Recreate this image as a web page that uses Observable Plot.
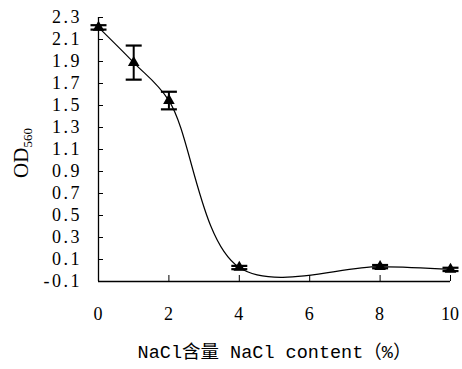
<!DOCTYPE html>
<html><head><meta charset="utf-8">
<script src="https://cdn.jsdelivr.net/npm/d3@7"></script>
<script src="https://cdn.jsdelivr.net/npm/@observablehq/plot@0.6"></script>
<style>
body{margin:0;background:#fff}
</style>
</head><body><div id="chart"></div>
<script>
const nacl = [0, 1, 2, 4, 8, 10];
const od = [2.21, 1.89, 1.545, 0.027, 0.035, 0.01];
const odErr = [0.02, 0.155, 0.08, 0.015, 0.015, 0.015];
const yTicks = [-0.1, 0.1, 0.3, 0.5, 0.7, 0.9, 1.1, 1.3, 1.5, 1.7, 1.9, 2.1, 2.3];
const xTicks = [0, 2, 4, 6, 8, 10];
const xLabel = "NaCl含量 NaCl content（%）";

const data = nacl.map((x, i) => ({x, y: od[i], lo: od[i] - odErr[i], hi: od[i] + odErr[i]}));

const cap = {draw(ctx, size) { const h = Math.sqrt(size / Math.PI); ctx.moveTo(-h, 0); ctx.lineTo(h, 0); }};
const serif = "'Liberation Serif','DejaVu Serif',serif";
const fmt = d => d3.format(".1f")(d).replace("−", "-");

const plot = Plot.plot({
  width: 462, height: 369,
  marginLeft: 98, marginRight: 12, marginTop: 17, marginBottom: 88,
  x: {domain: [0, 10]},
  y: {domain: [-0.1, 2.3]},
  marks: [
    Plot.axisY({ticks: yTicks, tickSize: -5, tickFormat: () => "", label: null}),
    Plot.axisX({ticks: xTicks, tickSize: -6, tickFormat: () => "", label: null}),
    Plot.ruleX([0], {stroke: "black", strokeWidth: 1.3}),
    Plot.ruleY([-0.1], {stroke: "black", strokeWidth: 1.3}),
    Plot.line(data, {x: "x", y: "y", curve: "catmull-rom", stroke: "black", strokeWidth: 1.2}),
    Plot.ruleX(data, {x: "x", y1: "lo", y2: "hi", stroke: "black", strokeWidth: 2}),
    Plot.dot(data, {x: "x", y: "hi", symbol: cap, r: 8, stroke: "black", strokeWidth: 2.2}),
    Plot.dot(data, {x: "x", y: "lo", symbol: cap, r: 8, stroke: "black", strokeWidth: 2.2}),
    Plot.dot(data, {x: "x", y: "y", symbol: "triangle", r: 4.3, fill: "black"}),
    Plot.text([xLabel], {frameAnchor: "bottom", dy: 76, text: d => d, fontSize: 18.5, fontFamily: "'Liberation Mono','Noto Sans CJK SC',monospace", fill: "black"})
  ]
});
document.getElementById("chart").append(plot);

const svg = d3.select(plot);
const ys = plot.scale("y"), xs = plot.scale("x");
const x0 = xs.apply(0), yBase = ys.apply(-0.1);

// y tick labels, drawn through Plot's y scale, spaced out like the original
const gy = svg.append("g").attr("aria-label", "y tick labels")
  .attr("font-family", serif).attr("font-size", 18).attr("fill", "black")
  .attr("text-anchor", "end");
gy.selectAll("text").data(yTicks).join("text")
  .attr("x", x0 - 16)
  .attr("y", d => ys.apply(d))
  .attr("dy", "0.34em")
  .attr("letter-spacing", "2.5")
  .style("letter-spacing", "2.5px")
  .text(fmt);

// x tick labels through Plot's x scale
const gx = svg.append("g").attr("aria-label", "x tick labels")
  .attr("font-family", serif).attr("font-size", 18).attr("fill", "black")
  .attr("text-anchor", "middle");
gx.selectAll("text").data(xTicks).join("text")
  .attr("x", d => xs.apply(d))
  .attr("y", yBase + 33)
  .attr("dy", "0.34em")
  .text(d => String(d));

const t = svg.append("text")
  .attr("transform", "translate(28,153) rotate(-90)")
  .attr("text-anchor", "middle")
  .attr("font-family", serif)
  .attr("font-size", 21)
  .attr("fill", "black");
t.append("tspan").text("OD");
t.append("tspan").attr("font-size", 13).attr("dy", 4).text("560");
</script>
</body></html>
